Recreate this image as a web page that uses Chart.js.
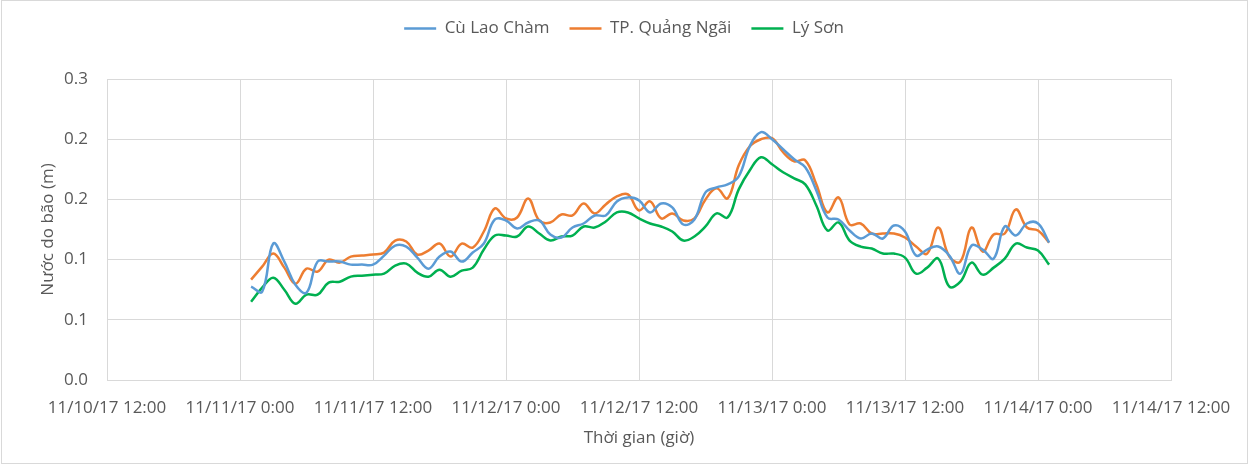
<!DOCTYPE html>
<html>
<head>
<meta charset="utf-8">
<script src="https://cdn.jsdelivr.net/npm/chart.js@4/dist/chart.umd.min.js"></script>
<style>
html,body{margin:0;padding:0;background:#fff;}
#wrap{width:1248px;height:465px;position:relative;}
</style>
</head>
<body>
<div id="wrap"><canvas id="c" width="1248" height="465"></canvas></div>
<script>
// Hours since 11/11/17 0:00
const hours = [1,2,3,4,5,6,7,8,9,10,11,12,13,14,15,16,17,18,19,20,21,22,23,24,25,26,27,28,29,30,31,32,33,34,35,36,37,38,39,40,41,42,43,44,45,46,47,48,49,50,51,52,53,54,55,56,57,58,59,60,61,62,63,64,65,66,67,68,69,70,71,72,73];

const cuLaoCham = [0.093,0.088,0.136,0.118,0.095,0.087,0.118,0.118,0.118,0.115,
  0.115,0.115,0.124,0.134,0.133,0.122,0.111,0.123,0.128,0.118,
  0.127,0.136,0.160,0.159,0.151,0.157,0.159,0.145,0.142,0.152,
  0.156,0.164,0.164,0.178,0.182,0.179,0.167,0.176,0.172,0.155,
  0.160,0.187,0.192,0.195,0.203,0.233,0.247,0.240,0.230,0.220,
  0.212,0.189,0.162,0.160,0.149,0.141,0.146,0.141,0.154,0.148,
  0.124,0.130,0.133,0.124,0.106,0.134,0.130,0.121,0.153,0.144,
  0.156,0.156,0.137];

const quangNgai = [0.100,0.113,0.126,0.112,0.096,0.111,0.108,0.120,0.117,0.123,
  0.124,0.125,0.127,0.139,0.138,0.125,0.129,0.136,0.123,0.136,
  0.132,0.148,0.171,0.161,0.162,0.181,0.159,0.157,0.165,0.164,
  0.176,0.166,0.175,0.183,0.185,0.169,0.178,0.161,0.166,0.159,
  0.161,0.180,0.191,0.181,0.214,0.233,0.240,0.241,0.227,0.218,
  0.219,0.195,0.167,0.182,0.155,0.156,0.146,0.146,0.146,0.142,
  0.133,0.126,0.152,0.123,0.118,0.152,0.128,0.145,0.146,0.170,
  0.152,0.149,0.137];

const lySon = [0.078,0.092,0.102,0.090,0.076,0.085,0.085,0.097,0.098,0.103,
  0.104,0.105,0.106,0.114,0.116,0.107,0.103,0.110,0.103,0.109,
  0.112,0.130,0.144,0.144,0.143,0.153,0.146,0.139,0.143,0.144,
  0.153,0.152,0.158,0.167,0.167,0.161,0.156,0.153,0.148,0.139,
  0.143,0.153,0.166,0.162,0.190,0.209,0.222,0.215,0.207,0.201,
  0.195,0.174,0.149,0.157,0.139,0.133,0.131,0.126,0.126,0.122,
  0.106,0.112,0.121,0.093,0.098,0.117,0.105,0.112,0.121,0.136,
  0.132,0.129,0.115];

const seriesNames = ['Cù Lao Chàm', 'TP. Quảng Ngãi', 'Lý Sơn'];
const xTickHours = [-12, 0, 12, 24, 36, 48, 60, 72, 84];
const xTickLabels = ['11/10/17 12:00','11/11/17 0:00','11/11/17 12:00','11/12/17 0:00','11/12/17 12:00','11/13/17 0:00','11/13/17 12:00','11/14/17 0:00','11/14/17 12:00'];
const yTicks = [0, 0.06, 0.12, 0.18, 0.24, 0.30];
const xTitle = 'Thời gian (giờ)';
const yTitle = 'Nước do bão (m)';

const colors = ['#5B9BD5', '#ED7D31', '#00B050'];
const FONT = "'Open Sans', 'Noto Sans', sans-serif";
const TXT = '#595959';
const GRID = '#d9d9d9';

function toPoints(vals) { return vals.map((v, i) => ({x: hours[i], y: v})); }

const legendGap = {
  id: 'legendGap',
  beforeUpdate(chart) {
    const lg = chart.legend;
    if (lg && !lg._gapPatched) {
      const f = lg.fit;
      lg.fit = function () { f.call(this); this.height = 79; };
      lg._gapPatched = true;
    }
  },
  beforeDraw(chart) {
    const ctx = chart.ctx;
    ctx.save();
    ctx.fillStyle = '#fff';
    ctx.fillRect(0, 0, chart.width, chart.height);
    ctx.strokeStyle = GRID;
    ctx.lineWidth = 1;
    ctx.strokeRect(1.5, 0.5, chart.width - 2, chart.height - 2);
    ctx.restore();
  }
};

const allSeries = [cuLaoCham, quangNgai, lySon];

new Chart(document.getElementById('c'), {
  type: 'line',
  data: {
    datasets: allSeries.map((vals, i) => ({
      label: seriesNames[i],
      data: toPoints(vals),
      borderColor: colors[i],
      backgroundColor: colors[i],
      borderWidth: 2.5,
      pointRadius: 0,
      pointHoverRadius: 0,
      pointStyle: 'line',
      tension: 0.4,
      fill: false
    }))
  },
  options: {
    responsive: false,
    animation: false,
    devicePixelRatio: 1,
    layout: { padding: { left: 20, right: 20, top: 0, bottom: 5 } },
    plugins: {
      tooltip: { enabled: false },
      legend: {
        position: 'top',
        align: 'center',
        labels: {
          usePointStyle: true,
          pointStyle: 'line',
          pointStyleWidth: 32,
          padding: 20,
          color: TXT,
          font: { family: FONT, size: 17 }
        }
      }
    },
    scales: {
      x: {
        type: 'linear',
        min: xTickHours[0],
        max: xTickHours[xTickHours.length - 1],
        afterBuildTicks: (s) => { s.ticks = xTickHours.map(v => ({ value: v })); },
        afterFit: (s) => { s.height = 80; s.paddingRight = 77; },
        grid: { color: GRID, drawTicks: false, lineWidth: 1 },
        border: { color: GRID },
        ticks: {
          autoSkip: false, maxRotation: 0, minRotation: 0, padding: 18,
          color: TXT, font: { family: FONT, size: 17 },
          callback: (v, i) => xTickLabels[i]
        },
        title: {
          display: true, text: xTitle, color: TXT,
          font: { family: FONT, size: 17 }, padding: { top: 0, bottom: 12 }
        }
      },
      y: {
        min: 0, max: 0.3,
        afterBuildTicks: (s) => { s.ticks = yTicks.map(v => ({ value: v })); },
        afterFit: (s) => { s.width = 87; },
        grid: { color: GRID, drawTicks: false, lineWidth: 1 },
        border: { color: GRID },
        ticks: {
          padding: 19, color: TXT, font: { family: FONT, size: 17 },
          callback: (v) => Number(v).toFixed(1)
        },
        title: {
          display: true, text: yTitle, color: TXT,
          font: { family: FONT, size: 17 }, padding: { top: 18, bottom: 0 }
        }
      }
    }
  },
  plugins: [legendGap]
});
</script>
</body>
</html>
